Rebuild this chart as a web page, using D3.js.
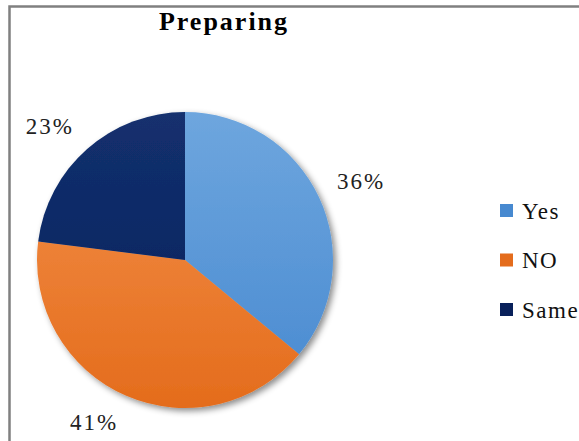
<!DOCTYPE html>
<html>
<head>
<meta charset="utf-8">
<script src="https://cdn.jsdelivr.net/npm/d3@7"></script>
<style>
  body { margin: 0; background: #fff; }
  svg { display: block; }
</style>
</head>
<body>
<div id="chart"></div>
<script>
const categories = ["Yes", "NO", "Same"];
const values = [36, 41, 23];
const pctLabels = ["36%", "41%", "23%"];
const colors = [["#6ea6de", "#4789d0"], ["#f4924c", "#e46c1c"], ["#13306e", "#08205a"]];

const width = 579, height = 441;
const cx = 185, cy = 260, radius = 148;
const serif = "'Liberation Serif', 'Times New Roman', serif";

const svg = d3.select("#chart").append("svg")
    .attr("width", width)
    .attr("height", height);

const defs = svg.append("defs");
const shadow = defs.append("filter").attr("id", "shadow")
    .attr("x", "-20%").attr("y", "-20%").attr("width", "140%").attr("height", "140%");
shadow.append("feDropShadow")
    .attr("dx", 3).attr("dy", 3).attr("stdDeviation", 3)
    .attr("flood-color", "#000").attr("flood-opacity", 0.45);

colors.forEach((c, i) => {
  const g = defs.append("linearGradient").attr("id", "grad" + i)
      .attr("gradientUnits", "userSpaceOnUse")
      .attr("x1", 0).attr("y1", -radius).attr("x2", 0).attr("y2", radius);
  g.append("stop").attr("offset", "0%").attr("stop-color", c[0]);
  g.append("stop").attr("offset", "100%").attr("stop-color", c[1]);
});

// outer frame (only top and left edges visible)
svg.append("rect")
    .attr("x", 9.5).attr("y", 6.5)
    .attr("width", 600).attr("height", 460)
    .attr("fill", "#fff")
    .attr("stroke", "#808080")
    .attr("stroke-width", 2.5);

svg.append("text")
    .attr("x", 224)
    .attr("y", 30)
    .attr("text-anchor", "middle")
    .style("font-family", serif)
    .style("font-weight", "bold")
    .style("font-size", "26px")
    .style("letter-spacing", "2px")
    .text("Preparing");

const data = categories.map((c, i) => ({name: c, value: values[i], label: pctLabels[i], idx: i}));

const pie = d3.pie().sort(null).value(d => d.value);
const arc = d3.arc().innerRadius(0).outerRadius(radius);
const labelArc = d3.arc().innerRadius(168).outerRadius(168);

const g = svg.append("g").attr("transform", "translate(" + cx + "," + cy + ")");

const slices = g.append("g").attr("filter", "url(#shadow)");
slices.selectAll("path")
    .data(pie(data))
    .join("path")
    .attr("d", arc)
    .attr("fill", d => "url(#grad" + d.data.idx + ")");

// outside-end labels: box corner sits on the anchor point
const clamp = v => Math.max(-1, Math.min(1, v));
g.selectAll("text.lbl")
    .data(pie(data))
    .join("text")
    .attr("class", "lbl")
    .attr("text-anchor", "middle")
    .attr("dy", "0.35em")
    .style("font-family", serif)
    .style("font-size", "23px")
    .style("letter-spacing", "2px")
    .style("fill", "#222")
    .text(d => d.data.label)
    .attr("transform", function(d) {
      const [px, py] = labelArc.centroid(d);
      const mid = (d.startAngle + d.endAngle) / 2;
      const w = this.getComputedTextLength(), h = 16;
      const ox = w / 2 * clamp(Math.sin(mid) * 3);
      const oy = h / 2 * clamp(-Math.cos(mid) * 3);
      return "translate(" + (px + ox) + "," + (py + oy) + ")";
    });

const y = d3.scalePoint().domain(categories).range([210.5, 309.5]);
const legend = svg.append("g");
const items = legend.selectAll("g")
    .data(data)
    .join("g")
    .attr("transform", d => "translate(500," + y(d.name) + ")");
items.append("rect")
    .attr("x", 0).attr("y", -6.5)
    .attr("width", 13).attr("height", 13)
    .attr("fill", d => colors[d.idx][1]);
items.append("text")
    .attr("x", 22)
    .attr("dy", "0.35em")
    .style("font-family", serif)
    .style("font-size", "23px")
    .style("letter-spacing", "1.5px")
    .style("fill", "#111")
    .text(d => d.name);
</script>
</body>
</html>
